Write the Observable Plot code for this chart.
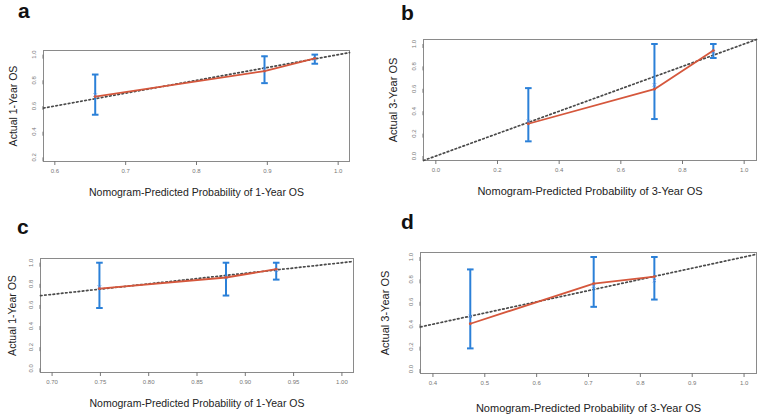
<!DOCTYPE html>
<html>
<head>
<meta charset="utf-8">
<script src="https://cdn.jsdelivr.net/npm/d3@7"></script>
<script src="https://cdn.jsdelivr.net/npm/@observablehq/plot@0.6"></script>
<style>
  html, body { margin: 0; padding: 0; background: #fff; }
  #wrap { position: relative; width: 777px; height: 420px; overflow: hidden; background: #fff; font-family: "Liberation Sans", Arial, sans-serif; }
  .panel { position: absolute; }
  .letter { position: absolute; font-family: "Liberation Sans", Arial, sans-serif; font-weight: bold; font-size: 21px; line-height: 16px; color: #111; }
</style>
</head>
<body>
<div id="wrap"></div>
<script>
// ---------- data ----------
const panelLetters = ["a", "b", "c", "d"];
const xTitles = [
  "Nomogram-Predicted Probability of 1-Year OS",
  "Nomogram-Predicted Probability of 3-Year OS",
  "Nomogram-Predicted Probability of 1-Year OS",
  "Nomogram-Predicted Probability of 3-Year OS"
];
const yTitles = ["Actual 1-Year OS", "Actual 3-Year OS", "Actual 1-Year OS", "Actual 3-Year OS"];

// panel a
const predA = [0.657, 0.896, 0.967];
const obsA  = [0.673, 0.872, 0.971];
const loA   = [0.532, 0.778, 0.929];
const hiA   = [0.845, 0.987, 1.000];
const bcA   = [0.685, 0.885, 0.968];
// panel b
const predB = [0.300, 0.709, 0.900];
const obsB  = [0.288, 0.597, 0.941];
const loB   = [0.131, 0.330, 0.875];
const hiB   = [0.606, 1.000, 1.000];
const bcB   = [0.310, 0.635, 0.930];
// panel c
const predC = [0.749, 0.880, 0.932];
const obsC  = [0.755, 0.860, 0.939];
const loC   = [0.571, 0.689, 0.840];
const hiC   = [1.000, 1.000, 1.000];
const bcC   = [0.770, 0.860, 0.930];
// panel d
const predD = [0.472, 0.710, 0.827];
const obsD  = [0.404, 0.763, 0.825];
const loD   = [0.184, 0.555, 0.620];
const hiD   = [0.889, 1.000, 1.000];
const bcD   = [0.470, 0.740, 0.790];

// axis tick values
const xTicksA = [0.6, 0.7, 0.8, 0.9, 1.0];
const yTicksA = [0.2, 0.4, 0.6, 0.8, 1.0];
const xTicksB = [0.0, 0.2, 0.4, 0.6, 0.8, 1.0];
const yTicksB = [0.0, 0.2, 0.4, 0.6, 0.8, 1.0];
const xTicksC = [0.70, 0.75, 0.80, 0.85, 0.90, 0.95, 1.00];
const yTicksC = [0.0, 0.2, 0.4, 0.6, 0.8, 1.0];
const xTicksD = [0.4, 0.5, 0.6, 0.7, 0.8, 0.9, 1.0];
const yTicksD = [0.0, 0.2, 0.4, 0.6, 0.8, 1.0];

// axis domains (R default 4% extension of the tick range)
const xDomA = [0.584, 1.016], yDomA = [0.168, 1.032];
const xDomB = [-0.04, 1.04],  yDomB = [-0.04, 1.04];
const xDomC = [0.688, 1.012], yDomC = [-0.04, 1.04];
const xDomD = [0.376, 1.024], yDomD = [-0.04, 1.04];

// ---------- drawing ----------
const RED = "#d5573c";
const BLUE = "#2b80d8";
const capSymbol = {
  draw(ctx, size) {
    const r = Math.sqrt(size / Math.PI);
    ctx.moveTo(-r, 0);
    ctx.lineTo(r, 0);
  }
};

function makePanel(o) {
  const idx = d3.range(o.pred.length);
  return Plot.plot({
    width: o.w, height: o.h,
    marginLeft: o.ml, marginRight: o.mr, marginTop: o.mt, marginBottom: o.mb,
    style: { fontFamily: "'Liberation Sans', Arial, sans-serif", background: "transparent", overflow: "visible" },
    x: { domain: o.xDom },
    y: { domain: o.yDom },
    marks: [
      Plot.frame({ stroke: "#8a8a8a", strokeWidth: 1 }),
      Plot.axisX({ ticks: o.xTicks, tickFormat: d3.format(o.xFmt), tickSize: 4, tickPadding: 3, fontSize: 6, color: "#777", label: null }),
      Plot.axisY({ ticks: o.yTicks, tickFormat: d3.format(".1f"), tickSize: 4, tickPadding: 5, fontSize: 6, color: "#777", rotate: -90, textAnchor: "middle", label: null }),
      Plot.line(o.xDom, { x: d => d, y: d => d, stroke: "#4a4a4a", strokeWidth: 1.7, strokeDasharray: "1.6,2.6" }),
      Plot.ruleX(idx, { x: i => o.pred[i], y1: i => o.lo[i], y2: i => o.hi[i], stroke: BLUE, strokeWidth: 2 }),
      Plot.dot(idx, { x: i => o.pred[i], y: i => o.lo[i], symbol: capSymbol, r: 3.3, fill: "none", stroke: BLUE, strokeWidth: 2 }),
      Plot.dot(idx, { x: i => o.pred[i], y: i => o.hi[i], symbol: capSymbol, r: 3.3, fill: "none", stroke: BLUE, strokeWidth: 2 }),
      Plot.line(idx, { x: i => o.pred[i], y: i => o.obs[i], stroke: RED, strokeWidth: 1.8 }),
      Plot.dot(idx, { x: i => o.pred[i], y: i => o.bc[i], symbol: "times", r: 1.6, stroke: "#5a8fe0", strokeWidth: 1 }),
      Plot.dot(idx, { x: i => o.pred[i], y: i => o.obs[i], r: 1.4, fill: RED, stroke: "none" }),
      Plot.text([o.yTitle], { frameAnchor: "left", textAnchor: "middle", lineAnchor: "middle", rotate: -90, dx: o.ydx, fontSize: o.fs, fill: "#222" }),
      Plot.text([o.xTitle], { frameAnchor: "bottom", textAnchor: "middle", lineAnchor: "bottom", dy: o.xdy, fontSize: o.fs, fill: "#222" })
    ]
  });
}

const configs = [
  { left: 0,   top: 0,   w: 388, h: 210, ml: 43, mr: 39, mt: 50, mb: 49,
    pred: predA, obs: obsA, lo: loA, hi: hiA, bc: bcA, xTicks: xTicksA, yTicks: yTicksA, xFmt: ".1f",
    xDom: xDomA, yDom: yDomA, xTitle: xTitles[0], yTitle: yTitles[0], ydx: -30, xdy: 34, fs: 10.5,
    letter: panelLetters[0], lx: 18, ly: 3 },
  { left: 388, top: 0,   w: 389, h: 210, ml: 35, mr: 21, mt: 39, mb: 50,
    pred: predB, obs: obsB, lo: loB, hi: hiB, bc: bcB, xTicks: xTicksB, yTicks: yTicksB, xFmt: ".1f",
    xDom: xDomB, yDom: yDomB, xTitle: xTitles[1], yTitle: yTitles[1], ydx: -30, xdy: 34, fs: 11,
    letter: panelLetters[1], lx: 401, ly: 5 },
  { left: 0,   top: 210, w: 388, h: 210, ml: 40, mr: 35, mt: 48, mb: 48,
    pred: predC, obs: obsC, lo: loC, hi: hiC, bc: bcC, xTicks: xTicksC, yTicks: yTicksC, xFmt: ".2f",
    xDom: xDomC, yDom: yDomC, xTitle: xTitles[2], yTitle: yTitles[2], ydx: -28, xdy: 34, fs: 10.5,
    letter: panelLetters[2], lx: 17, ly: 219 },
  { left: 388, top: 210, w: 389, h: 210, ml: 32, mr: 21, mt: 42, mb: 47,
    pred: predD, obs: obsD, lo: loD, hi: hiD, bc: bcD, xTicks: xTicksD, yTicks: yTicksD, xFmt: ".1f",
    xDom: xDomD, yDom: yDomD, xTitle: xTitles[3], yTitle: yTitles[3], ydx: -35, xdy: 38, fs: 11,
    letter: panelLetters[3], lx: 401, ly: 214 }
];

const wrap = document.getElementById("wrap");
for (const c of configs) {
  const div = document.createElement("div");
  div.className = "panel";
  div.style.left = c.left + "px";
  div.style.top = c.top + "px";
  div.appendChild(makePanel(c));
  wrap.appendChild(div);
  const L = document.createElement("div");
  L.className = "letter";
  L.style.left = c.lx + "px";
  L.style.top = c.ly + "px";
  L.textContent = c.letter;
  wrap.appendChild(L);
}
</script>
</body>
</html>
